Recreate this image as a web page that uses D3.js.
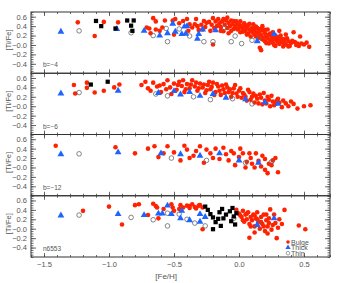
<!DOCTYPE html>
<html>
<head>
<meta charset="utf-8">
<script src="https://cdn.jsdelivr.net/npm/d3@7"></script>
<style>
  body { margin: 0; background: #fff; }
  svg { display: block; }
  text { font-family: "Liberation Sans", Arial, sans-serif; fill: #555; }
  .axis path { display: none; }
  .axis line { stroke: #444; stroke-width: 0.8; }
</style>
</head>
<body>
<script>
const W = 354, H = 283

const panelNames = ['b=\u22124', 'b=\u22126', 'b=\u221212', 'n6553']
const xTicks = [-1.5, -1.0, -0.5, 0.0, 0.5]
const yTicks = [-0.4, -0.2, 0.0, 0.2, 0.4, 0.6]

// [Fe/H], [Ti/Fe] per panel
const bulge1 = [[-1.24,0.48],[-1.11,0.19],[-1.04,0.49],[-0.93,0.48],[-0.66,0.57],[-0.64,0.50],[-0.71,0.37],[-0.69,0.35],[-0.68,0.25],[-0.64,0.33],[-0.61,0.30],[-0.59,0.37],[-0.57,0.52],[-0.51,0.52],[-0.49,0.55],[-0.50,0.22],[-0.46,0.46],[-0.43,0.51],[-0.40,0.55],[-0.39,0.30],[-0.38,0.44],[-0.36,0.37],[-0.33,0.55],[-0.34,0.44],[-0.32,0.40],[-0.31,0.32],[-0.29,0.43],[-0.28,0.33],[-0.27,0.51],[-0.25,0.47],[-0.23,0.49],[-0.20,0.57],[-0.21,0.43],[-0.18,0.50],[-0.17,0.40],[-0.20,0.01],[-0.16,0.55],[-0.15,0.46],[-0.14,0.38],[-0.13,0.50],[-0.12,0.29],[-0.11,0.43],[-0.10,0.52],[-0.09,0.58],[-0.09,0.36],[-0.08,0.47],[-0.07,0.40],[-0.06,0.30],[-0.05,0.44],[-0.04,0.51],[-0.03,0.38],[-0.02,0.50],[-0.01,0.33],[0.00,0.43],[0.01,0.27],[0.02,0.40],[0.03,0.35],[0.04,0.46],[0.05,0.30],[0.06,0.38],[0.07,0.24],[0.07,0.42],[0.08,0.33],[0.09,0.18],[0.10,0.36],[0.10,0.28],[0.11,0.44],[0.12,0.22],[0.12,0.32],[0.13,0.39],[0.14,0.26],[0.15,0.15],[0.15,0.34],[0.16,0.29],[0.17,-0.11],[0.16,-0.06],[0.17,0.21],[0.18,0.40],[0.18,0.12],[0.19,0.30],[0.20,0.25],[0.20,0.08],[0.21,0.19],[0.22,0.33],[0.22,0.14],[0.23,0.03],[0.24,0.24],[0.24,0.10],[0.25,0.18],[0.26,0.05],[0.27,0.13],[0.28,0.20],[0.28,-0.02],[0.29,0.09],[0.30,0.15],[0.31,0.30],[0.31,0.02],[0.32,0.10],[0.33,0.06],[0.34,-0.03],[0.35,0.12],[0.36,0.01],[0.38,0.08],[0.39,-0.02],[0.40,0.04],[0.42,0.27],[0.43,0.06],[0.44,0.00],[0.47,0.18],[0.48,0.03],[0.50,0.01],[0.54,-0.04],
  [-0.26,0.38],[-0.22,0.30],[-0.19,0.36],[-0.14,0.30],[-0.12,0.55],[-0.08,0.25],[-0.06,0.52],[-0.04,0.34],[-0.02,0.44],[0.00,0.36],[0.01,0.50],[0.03,0.28],[0.05,0.41],[0.06,0.22],[0.08,0.45],[0.09,0.30],[0.11,0.26],[0.13,0.18],[0.14,0.36],[0.16,0.20],[0.17,0.34],[0.19,0.16],[0.20,0.32],[0.21,0.04],[0.23,0.22],[0.25,0.12],[0.26,0.27],[0.27,0.00],[0.29,0.17],[0.30,0.06],[0.32,0.20],[0.33,0.13],[0.35,0.04],[0.37,0.14],[0.38,-0.03],[0.41,0.09],[0.45,0.03],[0.46,-0.02],[0.52,0.05],[0.36,0.22]]
const thick1 = [[-1.37,0.28],[-0.94,0.34],[-0.73,0.30],[-0.61,0.20],[-0.55,0.25],[-0.51,0.45],[-0.49,0.28],[-0.44,0.23],[-0.42,0.39],[-0.40,0.40],[-0.41,0.24],[-0.31,0.23],[-0.32,0.13],[-0.28,0.33],[-0.18,0.31],[0.14,0.08],[0.27,0.23]]
const thin1 = [[-1.23,0.30],[-0.83,0.26],[-0.66,0.20],[-0.56,0.35],[-0.55,0.07],[-0.46,0.34],[-0.38,0.19],[-0.27,0.07],[-0.20,0.07],[-0.06,0.07],[-0.03,0.19],[0.02,0.03],[-0.11,0.37],[0.10,0.10],[0.15,0.12]]
const other1 = [[-1.10,0.51],[-1.06,0.40],[-0.95,0.35],[-0.86,0.52],[-0.81,0.52],[-0.83,0.41],[-0.82,0.30]]

const bulge2 = [[-1.27,0.45],[-1.26,0.27],[-1.17,0.50],[-1.17,0.39],[-1.11,0.29],[-1.04,0.33],[-0.96,0.40],[-0.92,0.46],[-0.75,0.45],[-0.70,0.38],[-0.66,0.50],[-0.63,0.42],[-0.60,0.30],[-0.58,0.47],[-0.55,0.55],[-0.53,0.40],[-0.50,0.48],[-0.48,0.35],[-0.46,0.52],[-0.44,0.43],[-0.42,0.30],[-0.40,0.47],[-0.38,0.38],[-0.36,0.55],[-0.34,0.42],[-0.32,0.33],[-0.30,0.48],[-0.28,0.40],[-0.26,0.28],[-0.24,0.45],[-0.22,0.36],[-0.20,0.50],[-0.18,0.30],[-0.16,0.42],[-0.14,0.24],[-0.12,0.36],[-0.10,0.46],[-0.08,0.30],[-0.06,0.20],[-0.04,0.38],[-0.02,0.27],[0.00,0.33],[0.02,0.18],[0.04,0.25],[0.06,0.12],[0.08,0.30],[0.10,0.20],[0.12,0.08],[0.14,0.16],[0.16,0.25],[0.18,0.04],[0.20,0.12],[0.22,0.20],[0.24,0.00],[0.26,0.10],[0.28,0.05],[0.30,0.16],[0.33,-0.02],[0.36,0.06],[0.40,0.10],[0.45,-0.05],[0.55,0.02],
  [-0.72,0.52],[-0.68,0.33],[-0.61,0.44],[-0.56,0.36],[-0.52,0.26],[-0.47,0.45],[-0.43,0.55],[-0.41,0.36],[-0.37,0.46],[-0.33,0.50],[-0.31,0.38],[-0.27,0.46],[-0.25,0.34],[-0.23,0.52],[-0.21,0.41],[-0.19,0.24],[-0.17,0.47],[-0.15,0.33],[-0.13,0.44],[-0.11,0.28],[-0.09,0.40],[-0.07,0.36],[-0.05,0.28],[-0.03,0.45],[-0.01,0.20],[0.01,0.38],[0.03,0.28],[0.05,0.20],[0.07,0.35],[0.09,0.14],[0.11,0.27],[0.13,0.22],[0.15,0.06],[0.17,0.18],[0.19,0.28],[0.21,0.06],[0.23,0.14],[0.25,0.22],[0.27,0.02],[0.29,0.12],[0.31,0.08],[0.34,0.12],[0.38,0.00],[0.42,0.05],[0.50,0.00]]
const thick2 = [[-1.37,0.27],[-0.93,0.33],[-0.62,0.28],[-0.50,0.32],[-0.45,0.25],[-0.38,0.30],[-0.30,0.22],[-0.20,0.26],[-0.10,0.18],[0.05,0.15],[0.20,0.08],[0.30,0.05]]
const thin2 = [[-1.23,0.29],[-0.64,0.26],[-0.55,0.22],[-0.35,0.20],[-0.22,0.14],[-0.05,0.16],[0.10,0.05]]
const other2 = [[-1.14,0.46],[-1.01,0.52]]

const bulge3 = [[-1.41,0.46],[-0.95,0.43],[-0.80,0.30],[-0.70,0.40],[-0.62,0.22],[-0.55,0.45],[-0.50,0.32],[-0.45,0.15],[-0.40,0.38],[-0.35,0.25],[-0.30,0.45],[-0.27,0.10],[-0.22,0.30],[-0.18,0.40],[-0.15,0.18],[-0.10,0.28],[-0.06,0.35],[-0.03,0.05],[0.00,0.22],[0.03,0.30],[0.06,0.12],[0.09,0.20],[0.12,0.00],[0.15,0.14],[0.18,0.25],[0.20,-0.05],[0.23,0.08],[0.26,0.15],[0.30,-0.10],
  [-0.65,0.45],[-0.58,0.30],[-0.42,0.46],[-0.38,0.20],[-0.33,0.35],[-0.25,0.38],[-0.20,0.20],[-0.12,0.42],[-0.08,0.15],[-0.04,0.30],[0.01,0.40],[0.05,0.00],[0.08,0.30],[0.10,0.08],[0.13,0.30],[0.17,0.02],[0.20,0.18],[0.22,-0.12],[0.25,0.05],[0.28,0.20]]
const thick3 = [[-1.37,0.28],[-0.93,0.32],[-0.60,0.30],[-0.45,0.28],[-0.30,0.25],[-0.15,0.30],[0.00,0.15],[0.15,0.10]]
const thin3 = [[-1.23,0.29],[-0.52,0.20],[-0.25,0.15],[0.05,0.10],[0.25,0.12]]
const other3 = []

const bulge4 = [[-1.20,0.38],[-1.00,0.47],[-0.90,0.09],[-0.80,0.50],[-0.77,0.52],[-0.66,0.53],[-0.64,0.48],[-0.63,0.45],[-0.70,0.29],[-0.62,0.22],[-0.58,0.42],[-0.52,0.52],[-0.51,0.45],[-0.46,0.42],[-0.45,0.50],[-0.43,0.45],[-0.40,0.49],[-0.38,0.48],[-0.38,0.44],[-0.34,0.46],[-0.33,0.43],[-0.31,0.49],[-0.30,0.50],[-0.28,-0.01],[-0.02,0.40],[0.00,0.32],[0.02,0.25],[0.03,0.38],[0.04,0.15],[0.05,0.30],[0.06,0.20],[0.07,0.35],[0.08,-0.19],[0.08,0.10],[0.09,0.25],[0.10,0.18],[0.11,0.30],[0.12,0.05],[0.13,0.22],[0.14,0.35],[0.15,0.15],[0.16,0.00],[0.17,0.25],[0.18,0.10],[0.19,0.30],[0.20,-0.05],[0.21,0.18],[0.22,0.05],[0.23,0.12],[0.24,0.41],[0.25,-0.02],[0.26,0.08],[0.27,0.30],[0.29,-0.20],[0.30,0.02],[0.35,0.40],[0.46,0.07],[0.51,-0.01],
  [-0.50,0.38],[-0.36,0.52],[-0.28,0.45],[0.01,0.28],[0.03,0.18],[0.06,0.32],[0.09,0.05],[0.12,0.28],[0.14,0.20],[0.17,0.14],[0.19,0.05],[0.21,0.30],[0.23,0.22],[0.28,0.12],[0.31,0.20],[0.33,0.10],[0.22,-0.10],[0.12,-0.08]]
const thick4 = [[-1.37,0.28],[-0.93,0.31],[-0.73,0.29],[-0.62,0.32],[-0.59,0.32],[-0.55,0.49],[-0.52,0.31],[-0.44,0.38],[-0.45,0.22],[-0.38,0.18],[-0.30,0.15],[-0.30,0.31],[-0.26,0.25],[0.14,0.08],[0.27,0.22]]
const thin4 = [[-1.23,0.29],[-0.83,0.24],[-0.66,0.19],[-0.55,0.33],[-0.55,0.06],[-0.46,0.31],[-0.40,0.20],[-0.34,0.12],[-0.26,0.06],[-0.04,0.22],[0.15,0.12]]
const other4 = [[-0.26,0.47],[-0.24,0.40],[-0.22,0.31],[-0.20,0.24],[-0.20,-0.01],[-0.18,0.14],[-0.16,0.21],[-0.15,0.35],[-0.13,0.42],[-0.12,0.22],[-0.14,0.06],[-0.10,0.30],[-0.07,0.37],[-0.06,0.16],[-0.05,0.44],[-0.04,0.26],[-0.03,0.09],[-0.02,0.33]]

const panels = [
  {bulge: bulge1, thick: thick1, thin: thin1, other: other1},
  {bulge: bulge2, thick: thick2, thin: thin2, other: other2},
  {bulge: bulge3, thick: thick3, thin: thin3, other: other3},
  {bulge: bulge4, thick: thick4, thin: thin4, other: other4}
]

const plotL = 31, plotR = 330, plotT = 12, plotB = 257
const ph = (plotB - plotT) / panels.length

const x = d3.scaleLinear().domain([-1.6, 0.7]).range([plotL, plotR])
const xMinor = d3.range(-16, 8).map(d => d / 10)
const yMinor = d3.range(-12, 15).map(d => d / 20)

const svg = d3.select('body').append('svg')
  .attr('width', W).attr('height', H)

const fmtY = d => d === 0 ? '\u22120.0' : d3.format('.1f')(d)

panels.forEach((p, i) => {
  const y0 = plotT + i * ph
  const y = d3.scaleLinear().domain([-0.6, 0.7]).range([y0 + ph, y0])
  const g = svg.append('g')

  // frame
  g.append('rect')
    .attr('x', plotL).attr('y', y0)
    .attr('width', plotR - plotL).attr('height', ph)
    .attr('fill', 'none').attr('stroke', '#333').attr('stroke-width', 1)

  // ticks
  g.append('g').attr('class', 'axis').attr('transform', `translate(${plotL},0)`)
    .call(d3.axisLeft(y).tickValues(yTicks).tickSize(-5).tickFormat(fmtY).tickPadding(4))
    .call(s => s.selectAll('text').attr('font-size', 7.5).attr('fill', '#555'))
  g.append('g').attr('class', 'axis').attr('transform', `translate(${plotL},0)`)
    .call(d3.axisLeft(y).tickValues(yMinor).tickSize(-2.5).tickFormat(''))
  g.append('g').attr('class', 'axis').attr('transform', `translate(${plotR},0)`)
    .call(d3.axisRight(y).tickValues(yTicks).tickSize(-5).tickFormat(''))
  g.append('g').attr('class', 'axis').attr('transform', `translate(${plotR},0)`)
    .call(d3.axisRight(y).tickValues(yMinor).tickSize(-2.5).tickFormat(''))
  g.append('g').attr('class', 'axis').attr('transform', `translate(0,${y0})`)
    .call(d3.axisTop(x).tickValues(xTicks).tickSize(-4).tickFormat(''))
  g.append('g').attr('class', 'axis').attr('transform', `translate(0,${y0})`)
    .call(d3.axisTop(x).tickValues(xMinor).tickSize(-2).tickFormat(''))
  g.append('g').attr('class', 'axis').attr('transform', `translate(0,${y0 + ph})`)
    .call(d3.axisBottom(x).tickValues(xTicks).tickSize(-4)
      .tickFormat(i === panels.length - 1 ? d3.format('.1f') : '').tickPadding(5))
    .call(s => s.selectAll('text').attr('font-size', 7.5).attr('fill', '#555'))
  g.append('g').attr('class', 'axis').attr('transform', `translate(0,${y0 + ph})`)
    .call(d3.axisBottom(x).tickValues(xMinor).tickSize(-2).tickFormat(''))

  // y label
  g.append('text')
    .attr('transform', `translate(11,${y0 + 28}) rotate(-90)`)
    .attr('text-anchor', 'middle').attr('font-size', 7.5)
    .text('[Ti/Fe]')

  // panel name
  g.append('text')
    .attr('x', 43).attr('y', y0 + ph - 6)
    .attr('font-size', 6.5).attr('fill', '#777')
    .text(panelNames[i])

  // points
  g.append('g').selectAll('circle').data(p.bulge).join('circle')
    .attr('cx', d => x(d[0])).attr('cy', d => y(d[1])).attr('r', 2.3)
    .attr('fill', '#ff2200')
  g.append('g').selectAll('circle').data(p.thin).join('circle')
    .attr('cx', d => x(d[0])).attr('cy', d => y(d[1])).attr('r', 2.3)
    .attr('fill', 'none').attr('stroke', '#666').attr('stroke-width', 0.8)
  g.append('g').selectAll('path').data(p.thick).join('path')
    .attr('d', d3.symbol(d3.symbolTriangle, 20))
    .attr('transform', d => `translate(${x(d[0])},${y(d[1])})`)
    .attr('fill', '#1e64ff')
  g.append('g').selectAll('path').data(p.other).join('path')
    .attr('d', d3.symbol(d3.symbolSquare, 18))
    .attr('transform', d => `translate(${x(d[0])},${y(d[1])})`)
    .attr('fill', '#000')
})

// x label
svg.append('text')
  .attr('x', x(-0.56)).attr('y', 279)
  .attr('text-anchor', 'middle').attr('font-size', 8)
  .text('[Fe/H]')

// legend
const legend = svg.append('g').attr('transform', 'translate(288,242)')
const legItems = ['Bulge', 'Thick', 'Thin']
legend.selectAll('text').data(legItems).join('text')
  .attr('x', 3).attr('y', (d, i) => i * 5.6 + 2.5)
  .attr('font-size', 7).attr('fill', '#777')
  .text(d => d)
legend.append('circle').attr('r', 1.8).attr('fill', '#ff2200')
legend.append('path').attr('d', d3.symbol(d3.symbolTriangle, 12))
  .attr('transform', 'translate(0,5.6)').attr('fill', '#1e64ff')
legend.append('circle').attr('cy', 11.2).attr('r', 1.8)
  .attr('fill', 'none').attr('stroke', '#777').attr('stroke-width', 0.7)
</script>
</body>
</html>
